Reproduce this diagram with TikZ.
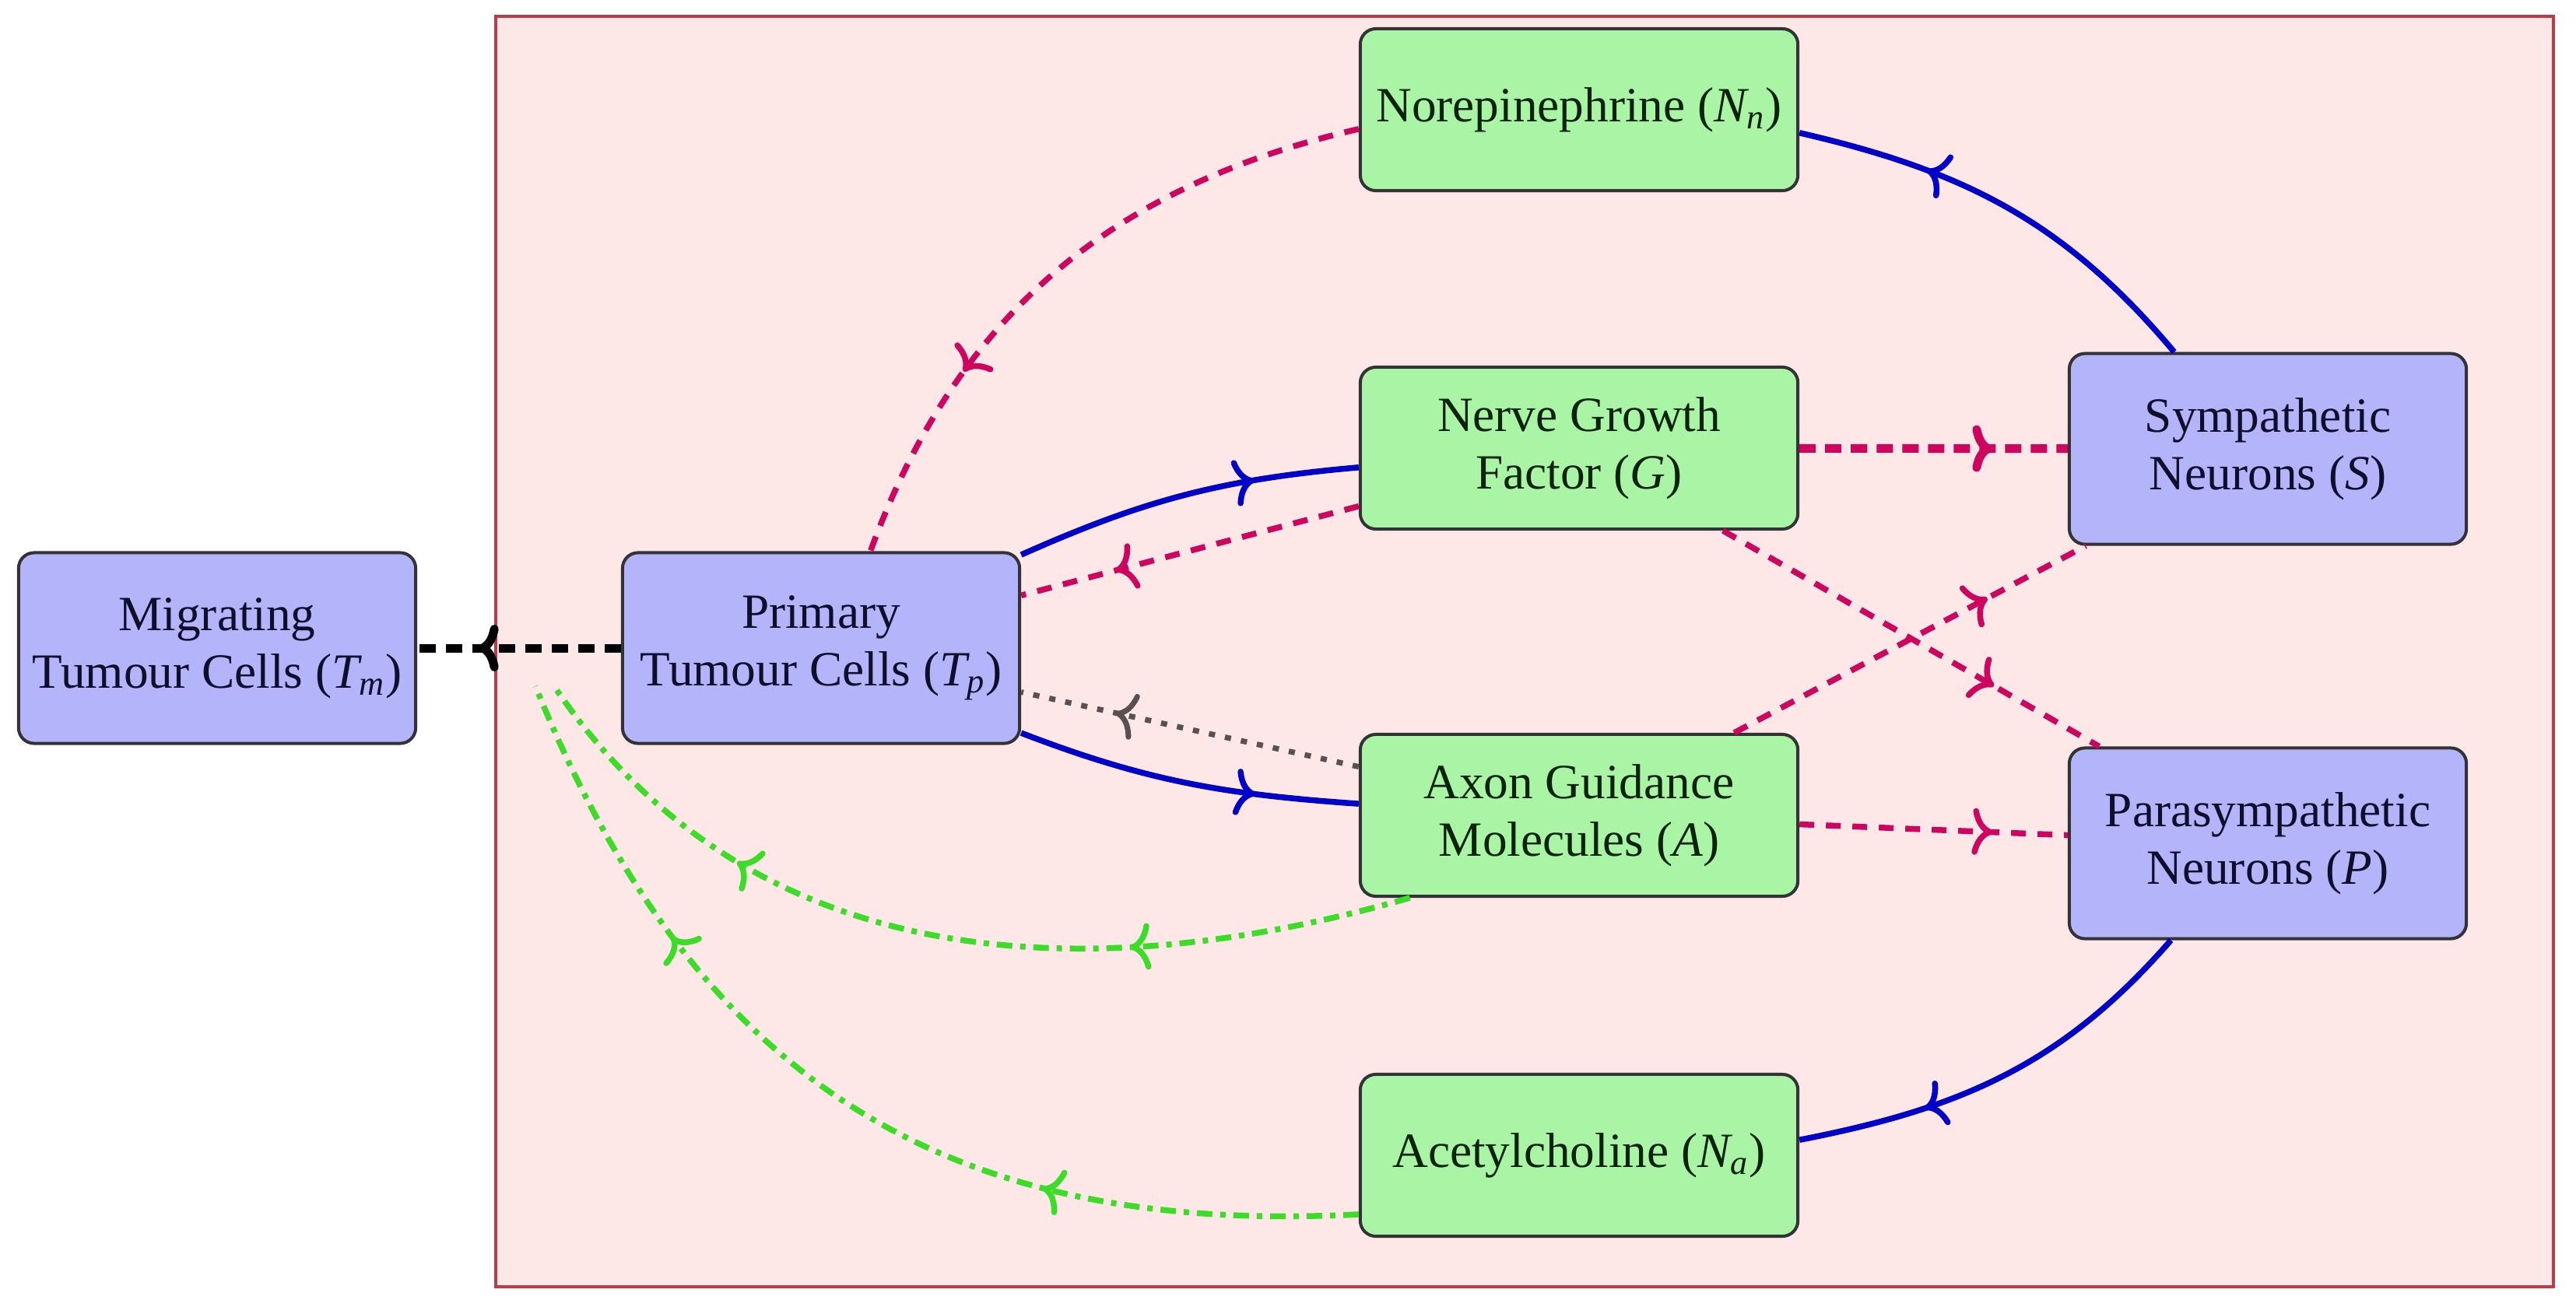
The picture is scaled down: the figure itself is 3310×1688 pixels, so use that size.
\documentclass[tikz,border=0pt]{standalone}
\usepackage{fontspec}
\setmainfont{Liberation Serif}
\usepackage{amsmath}
\usetikzlibrary{arrows.meta,decorations.markings}
\definecolor{bgpink}{RGB}{253,231,231}
\definecolor{framered}{RGB}{185,60,70}
\definecolor{boxblue}{RGB}{180,180,250}
\definecolor{boxgreen}{RGB}{170,245,165}
\definecolor{boxedge}{RGB}{50,50,55}
\definecolor{lineblue}{RGB}{0,0,200}
\definecolor{linepink}{RGB}{205,5,95}
\definecolor{linegreen}{RGB}{60,220,40}
\definecolor{linegray}{RGB}{90,80,80}
\newcommand{\mi}[1]{\textit{#1}}
\tikzset{
  box/.style={draw=boxedge, line width=0.04cm, rounded corners=0.2cm, align=center,
    font=\fontsize{18}{21}\selectfont, inner sep=0pt},
  bluebox/.style={box, fill=boxblue, text={rgb,255:red,15;green,15;blue,45},
    minimum width=5.1cm, minimum height=2.45cm},
  greenbox/.style={box, fill=boxgreen, text={rgb,255:red,10;green,35;blue,10},
    minimum width=5.62cm, minimum height=2.08cm},
  tipA/.tip={To[length=2.6mm,width=6mm]},
  midarr/.style={postaction={decorate}, decoration={markings,
    mark=at position #1 with {\arrow{tipA}}}},
  twoarr/.style={postaction={decorate}, decoration={markings,
    mark=at position 0.3 with {\arrow{tipA}},
    mark=at position 0.73 with {\arrow{tipA}}}},
  blueline/.style={draw=lineblue, line width=0.075cm},
  pinkline/.style={draw=linepink, line width=0.075cm, dash pattern=on 0.19cm off 0.15cm},
  pinkthick/.style={draw=linepink, line width=0.11cm, dash pattern=on 0.21cm off 0.12cm},
  blackthick/.style={draw=black, line width=0.11cm, dash pattern=on 0.21cm off 0.13cm},
  grayline/.style={draw=linegray, line width=0.07cm, dash pattern=on 0.08cm off 0.13cm},
  greenline/.style={draw=linegreen, line width=0.075cm,
    dash pattern=on 0.2cm off 0.1cm on 0.07cm off 0.1cm},
}
\begin{document}
\begin{tikzpicture}[x=0.01cm,y=0.01cm]
\useasboundingbox (0,0) rectangle (3310,-1688);
\fill[white] (0,0) rectangle (3310,-1688);
\draw[framered, fill=bgpink, line width=0.035cm] (637,-21) rectangle (3281,-1654);

\node[bluebox] (Tm) at (279,-833) {Migrating\\Tumour Cells ($\mi{T}_{\mi{m}}$)};
\node[bluebox] (Tp) at (1055,-833) {Primary\\Tumour Cells ($\mi{T}_{\mi{p}}$)};
\node[greenbox] (Nn) at (2029,-141) {Norepinephrine ($\mi{N}_{\mi{n}}$)};
\node[greenbox] (G) at (2029,-576) {Nerve Growth\\Factor ($\mi{G}$)};
\node[greenbox] (A) at (2029,-1048) {Axon Guidance\\Molecules ($\mi{A}$)};
\node[greenbox] (Na) at (2029,-1485) {Acetylcholine ($\mi{N}_{\mi{a}}$)};
\node[bluebox] (S) at (2914,-577) {Sympathetic\\Neurons ($\mi{S}$)};
\node[bluebox] (P) at (2914,-1084) {Parasympathetic\\Neurons ($\mi{P}$)};

\coordinate (e1) at (712,-882);
\coordinate (e2) at (688,-882);

\draw[blueline, midarr=0.7] (Tp.25) to[out=24, in=185] (G.185);
\draw[blueline, midarr=0.7] (Tp.-23) to[out=-21, in=176] (A.177);
\draw[pinkline, midarr=0.72] (G) -- (Tp);
\draw[grayline, midarr=0.72] (A) -- (Tp);
\draw[pinkthick, midarr=0.72] (G) -- (S);
\draw[pinkline, midarr=0.72] (A) -- (P);
\draw[pinkline, midarr=0.72] (G) -- (P);
\draw[pinkline, midarr=0.72] (A) -- (S);
\draw[blueline, midarr=0.7] (S.134) to[out=130, in=-13] (Nn.-6);
\draw[blueline, midarr=0.7] (P.225) to[out=229, in=11] (Na.4);
\draw[pinkline, midarr=0.7] (Nn.185) to[out=193, in=70] (Tp.63);
\draw[blackthick, midarr=0.7] (Tp) -- (Tm);
\draw[greenline, twoarr] (A.206) to[out=196, in=-56] (e1);
\draw[greenline, twoarr] (Na.195) to[out=183, in=-68, looseness=1.1] (e2);
\end{tikzpicture}
\end{document}
